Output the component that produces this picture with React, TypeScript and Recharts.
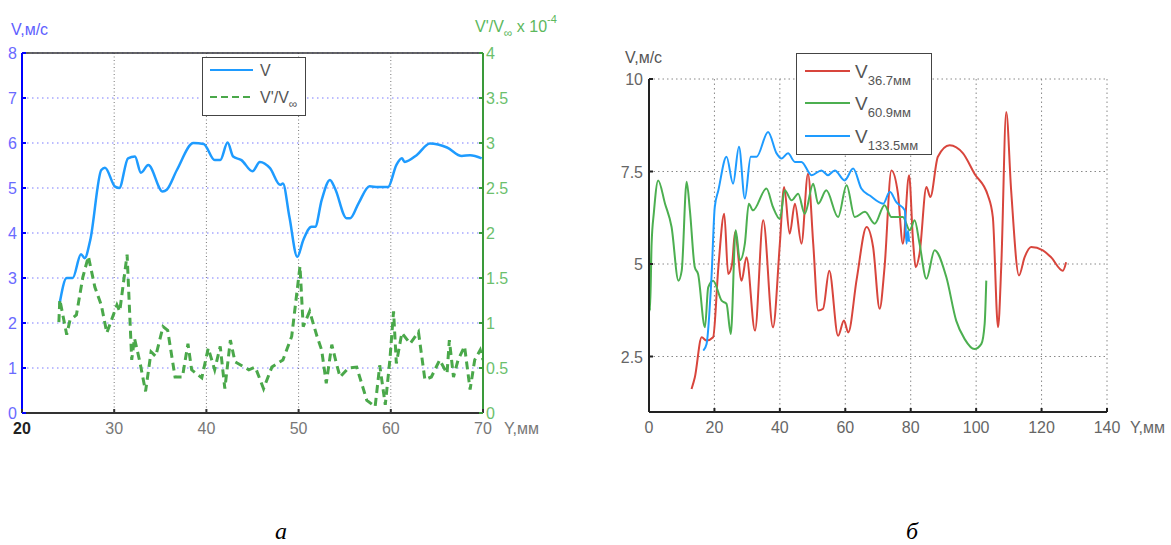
import React from 'react';
import { LineChart, Line, XAxis, YAxis, CartesianGrid, ReferenceLine, Legend } from 'recharts';

const SANS = '"Liberation Sans", Arial, Helvetica, sans-serif';

// ---------- Chart а ----------
const aVelX = [24.05, 24.85, 25.5, 26.4, 26.8, 27.4, 28.6, 29.0, 30.1, 30.55, 31.5, 32.25, 32.9, 33.7, 35.26, 35.7, 36.8, 38.6, 39.7, 40.9, 41.5, 42.3, 42.9, 43.8, 45.0, 45.8, 46.9, 48.0, 48.3, 49.0, 49.86, 50.5, 51.4, 51.8, 52.5, 53.4, 53.95, 55.2, 55.6, 56.5, 57.7, 58.6, 59.7, 60.6, 61.2, 61.5, 62.8, 64.25, 66.1, 67.7, 68.6, 69.86];
const aVelY = [2.4, 3.0, 3.0, 3.53, 3.44, 3.84, 5.4, 5.45, 5.03, 5.0, 5.66, 5.7, 5.34, 5.51, 4.92, 4.96, 5.4, 6.0, 5.98, 5.62, 5.62, 6.01, 5.7, 5.62, 5.37, 5.58, 5.44, 5.07, 5.1, 4.36, 3.47, 3.84, 4.14, 4.14, 4.73, 5.18, 4.99, 4.33, 4.33, 4.66, 5.04, 5.02, 5.02, 5.51, 5.66, 5.58, 5.73, 5.99, 5.9, 5.71, 5.73, 5.66];

const aFlucX = [24.0, 24.1, 24.85, 25.2, 25.9, 26.6, 27.2, 27.9, 28.6, 29.2, 30.3, 30.6, 31.4, 31.9, 32.2, 32.8, 33.4, 34.0, 34.5, 35.3, 35.8, 36.6, 37.4, 38.0, 38.4, 39.5, 40.2, 40.9, 41.5, 42.0, 42.6, 43.1, 44.6, 45.3, 46.2, 47.1, 48.3, 49.25, 50.15, 50.5, 51.2, 52.0, 52.5, 53.0, 53.6, 54.1, 54.5, 55.4, 56.3, 57.4, 58.3, 58.8, 59.4, 59.9, 60.3, 60.6, 61.2, 62.1, 63.0, 63.7, 64.4, 65.3, 66.1, 66.35, 66.8, 67.3, 68.0, 68.6, 69.1, 69.7, 70.0];
const aFlucY = [1.01, 1.26, 0.87, 1.03, 1.09, 1.51, 1.74, 1.4, 1.2, 0.89, 1.2, 1.13, 1.76, 0.59, 0.83, 0.56, 0.24, 0.68, 0.63, 0.96, 0.92, 0.4, 0.4, 0.77, 0.48, 0.39, 0.72, 0.48, 0.74, 0.27, 0.81, 0.57, 0.48, 0.51, 0.27, 0.51, 0.59, 0.85, 1.63, 0.96, 1.13, 0.85, 0.7, 0.33, 0.76, 0.55, 0.4, 0.5, 0.51, 0.14, 0.07, 0.53, 0.09, 0.59, 1.13, 0.55, 0.89, 0.77, 0.9, 0.37, 0.4, 0.59, 0.44, 0.81, 0.4, 0.59, 0.74, 0.26, 0.59, 0.7, 0.59];

const aXTicks = [20, 30, 40, 50, 60, 70];
const aLeftTicks = [0, 1, 2, 3, 4, 5, 6, 7, 8];
const aRightTicks = [0, 0.5, 1, 1.5, 2, 2.5, 3, 3.5, 4];

// ---------- Chart б ----------
const bRedX = [13.0, 14.0, 16.1, 17.6, 19.6, 21.2, 23.0, 24.2, 25.4, 26.3, 28.3, 29.8, 32.4, 34.9, 37.9, 40.0, 41.3, 43.0, 44.6, 46.6, 48.6, 50.2, 51.7, 53.2, 55.1, 57.8, 59.6, 60.9, 63.5, 66.5, 68.5, 70.5, 72.0, 74.1, 76.1, 77.6, 79.5, 80.7, 81.5, 82.7, 84.8, 86.0, 88.3, 91.9, 96.0, 99.5, 103.6, 105.1, 106.7, 107.7, 109.2, 110.7, 113.1, 114.8, 116.8, 120.4, 122.9, 126.5, 127.5];
const bRedY = [1.62, 1.93, 3.02, 2.93, 3.02, 4.91, 6.36, 4.73, 5.0, 5.86, 4.55, 5.18, 3.2, 6.18, 3.29, 5.55, 7.08, 5.82, 6.63, 5.55, 7.44, 5.55, 3.74, 3.79, 4.82, 3.06, 3.47, 3.15, 4.6, 6.0, 5.46, 3.79, 4.91, 7.53, 6.9, 5.55, 7.4, 5.64, 4.91, 5.28, 7.08, 6.81, 7.9, 8.21, 7.99, 7.44, 6.85, 6.27, 3.29, 5.0, 9.11, 6.99, 4.69, 5.18, 5.46, 5.37, 5.18, 4.82, 5.05];

const bGreenX = [0, 0.3, 0.8, 1.5, 2.8, 4.9, 6.9, 9.0, 10.0, 11.5, 12.5, 14.0, 15.0, 17.1, 18.1, 19.6, 22.2, 23.7, 25.0, 26.5, 27.8, 29.3, 30.5, 31.8, 35.9, 37.9, 40.0, 41.5, 43.6, 45.6, 47.6, 50.2, 51.7, 54.2, 57.8, 60.4, 62.9, 66.0, 69.0, 72.0, 74.1, 77.6, 79.7, 81.2, 82.7, 84.8, 87.3, 90.9, 93.9, 96.5, 99.5, 101.6, 102.6, 103.1];
const bGreenY = [5.6, 3.74, 5.55, 6.4, 7.26, 6.63, 6.0, 4.55, 4.82, 7.22, 6.45, 4.91, 4.73, 3.29, 4.37, 4.55, 4.01, 3.92, 3.11, 5.91, 5.1, 5.55, 6.63, 6.45, 7.04, 6.54, 6.22, 6.99, 6.72, 6.9, 6.36, 7.17, 6.63, 6.99, 6.27, 7.13, 6.27, 6.41, 6.09, 6.59, 6.27, 6.27, 5.91, 6.18, 5.55, 4.6, 5.37, 4.64, 3.47, 2.97, 2.7, 2.84, 3.38, 4.55];

const bBlueX = [16.6, 17.6, 19.1, 20.1, 21.2, 23.7, 25.7, 27.5, 29.3, 31.1, 32.9, 36.4, 39.0, 40.5, 42.5, 44.6, 46.6, 49.7, 52.7, 54.7, 56.8, 59.8, 62.4, 64.9, 67.5, 71.6, 73.6, 75.6, 78.2, 78.7, 79.2, 79.5];
const bBlueY = [2.66, 2.84, 4.64, 6.54, 6.99, 7.9, 7.17, 8.17, 6.77, 7.9, 7.9, 8.57, 7.99, 7.85, 7.99, 7.76, 7.76, 7.4, 7.53, 7.4, 7.53, 7.26, 7.58, 7.04, 6.85, 6.63, 6.95, 6.67, 6.45, 5.55, 5.9, 5.6];

const bXTicks = [0, 20, 40, 60, 80, 100, 120, 140];
const bYTicks = [2.5, 5, 7.5, 10];

const zip = (xs: number[], ys: number[]) => xs.map((x, i) => ({ x, y: ys[i] }));

const aVelData = zip(aVelX, aVelY);
const aFlucData = zip(aFlucX, aFlucY);
const bRedData = zip(bRedX, bRedY);
const bGreenData = zip(bGreenX, bGreenY);
const bBlueData = zip(bBlueX, bBlueY);

const BLUE_A = '#1e9bff';
const GREEN_A = '#4aa84a';
const RED_B = '#d8453c';
const GREEN_B = '#4caf50';
const BLUE_B = '#1e9bff';

// ---------- custom ticks ----------
const M = 8;
const bottomTick = (color: string, tickColor: string, boldFirst: number | null) => (props: any) => {
  const { x, y, payload } = props;
  const bold = boldFirst !== null && payload.value === boldFirst;
  return (
    <g>
      <line x1={x} x2={x} y1={y - M} y2={y - M - 4} stroke={tickColor} strokeWidth={2} />
      <text x={x} y={y + 13} textAnchor="middle" fontSize={16} fontFamily={SANS}
        fill={bold ? '#222' : color} fontWeight={bold ? 'bold' : 'normal'}>
        {payload.value}
      </text>
    </g>
  );
};
const leftTick = (color: string, tickColor: string, margin: number) => (props: any) => {
  const { x, y, payload } = props;
  return (
    <g>
      <line x1={x + margin} x2={x + margin + 4} y1={y} y2={y} stroke={tickColor} strokeWidth={2} />
      <text x={x} y={y + 6} textAnchor="end" fontSize={16} fontFamily={SANS} fill={color}>
        {payload.value}
      </text>
    </g>
  );
};
const rightTick = (color: string, tickColor: string, margin: number) => (props: any) => {
  const { x, y, payload } = props;
  return (
    <g>
      <line x1={x - margin} x2={x - margin - 4} y1={y} y2={y} stroke={tickColor} strokeWidth={2} />
      <text x={x} y={y + 6} textAnchor="start" fontSize={16} fontFamily={SANS} fill={color}>
        {payload.value}
      </text>
    </g>
  );
};

// ---------- legends ----------
const LegendA = () => (
  <svg width={104} height={59} style={{ display: 'block' }}>
    <rect x={0.5} y={0.5} width={103} height={58} fill="#fff" stroke="#444" strokeWidth={1} />
    <line x1={8} x2={51} y1={13} y2={13} stroke={BLUE_A} strokeWidth={2} />
    <text x={58} y={19} fontSize={16} fontFamily={SANS} fill="#555">V</text>
    <line x1={8} x2={51} y1={40} y2={40} stroke={GREEN_A} strokeWidth={2} strokeDasharray="7 4" />
    <text x={58} y={46} fontSize={16} fontFamily={SANS} fill="#555">
      V'/V<tspan dy={5} fontSize={12}>∞</tspan>
    </text>
  </svg>
);

const LegendRow = ({ y, color, sub }: { y: number; color: string; sub: string }) => (
  <g>
    <line x1={9} x2={54} y1={y} y2={y} stroke={color} strokeWidth={2} />
    <text x={59} y={y + 7} fontSize={19} fontFamily={SANS} fill="#555">
      V<tspan dy={7} fontSize={13}>{sub}</tspan>
    </text>
  </g>
);
const LegendB = () => (
  <svg width={136} height={102} style={{ display: 'block' }}>
    <rect x={0.5} y={0.5} width={135} height={101} fill="#fff" stroke="#444" strokeWidth={1} />
    <LegendRow y={18} color={RED_B} sub="36.7мм" />
    <LegendRow y={50} color={GREEN_B} sub="60.9мм" />
    <LegendRow y={83} color={BLUE_B} sub="133.5мм" />
  </svg>
);

export default function App() {
  return (
    <div style={{ position: 'absolute', left: 0, top: 0, width: 1171, height: 545, background: '#fff', fontFamily: SANS }}>
      {/* Chart а */}
      <div style={{ position: 'absolute', left: 0, top: 0 }}>
        <LineChart width={600} height={545} margin={{ top: 53, left: 2, right: 77, bottom: 102 }}>
          <CartesianGrid yAxisId="left" vertical={false} stroke="#7a7aff" strokeDasharray="1.5 3.5" />
          <CartesianGrid yAxisId="left" horizontal={false} stroke="#777" strokeDasharray="1 2.5" />
          <XAxis type="number" dataKey="x" domain={[20, 70]} ticks={aXTicks} interval={0}
            allowDataOverflow height={30} tickSize={0} tickMargin={M}
            axisLine={{ stroke: '#333', strokeWidth: 2 }}
            tick={bottomTick('#777', '#333', 20)}
            label={{ value: 'Y,мм', position: 'right', offset: 21, fill: '#777', fontSize: 16, fontFamily: SANS }} />
          <YAxis yAxisId="left" type="number" domain={[0, 8]} ticks={aLeftTicks} interval={0}
            width={20} tickSize={0} tickMargin={5}
            axisLine={{ stroke: '#0000ff', strokeWidth: 2 }}
            tick={leftTick('#6a6aff', '#0000ff', 5)} />
          <YAxis yAxisId="right" orientation="right" type="number" domain={[0, 4]} ticks={aRightTicks} interval={0}
            width={40} tickSize={0} tickMargin={3}
            axisLine={{ stroke: '#3a9a3a', strokeWidth: 2 }}
            tick={rightTick('#6cbf6c', '#3a9a3a', 3)} />
          <ReferenceLine yAxisId="left" y={8} stroke="#333" strokeWidth={1.5} />
          <Line yAxisId="left" data={aVelData} dataKey="y" type="monotone" dot={false}
            stroke={BLUE_A} strokeWidth={2.5} isAnimationActive={false} />
          <Line yAxisId="right" data={aFlucData} dataKey="y" type="linear" dot={false}
            stroke={GREEN_A} strokeWidth={3} strokeDasharray="8 5" isAnimationActive={false} />
          <Legend content={LegendA} layout="vertical" align="center" verticalAlign="middle"
            wrapperStyle={{ left: 202, top: 57, width: 104, height: 59 }} />
        </LineChart>
      </div>

      {/* Chart б */}
      <div style={{ position: 'absolute', left: 600, top: 0 }}>
        <LineChart width={571} height={545} margin={{ top: 79, left: 19, right: 64, bottom: 103 }}>
          <CartesianGrid stroke="#888" strokeDasharray="1.5 3" />
          <XAxis type="number" dataKey="x" domain={[0, 140]} ticks={bXTicks} interval={0}
            allowDataOverflow height={30} tickSize={0} tickMargin={M}
            axisLine={{ stroke: '#222', strokeWidth: 2 }}
            tick={bottomTick('#666', '#222', null)}
            label={{ value: 'Y,мм', position: 'right', offset: 23, fill: '#666', fontSize: 16, fontFamily: SANS }} />
          <YAxis type="number" domain={[1, 10]} ticks={bYTicks} interval={0}
            width={30} tickSize={0} tickMargin={6}
            axisLine={{ stroke: '#222', strokeWidth: 2 }}
            tick={leftTick('#666', '#222', 6)} />
          <Line data={bRedData} dataKey="y" type="monotone" dot={false}
            stroke={RED_B} strokeWidth={2} isAnimationActive={false} />
          <Line data={bGreenData} dataKey="y" type="monotone" dot={false}
            stroke={GREEN_B} strokeWidth={2} isAnimationActive={false} />
          <Line data={bBlueData} dataKey="y" type="monotone" dot={false}
            stroke={BLUE_B} strokeWidth={2} isAnimationActive={false} />
          <Legend content={LegendB} layout="vertical" align="center" verticalAlign="middle"
            wrapperStyle={{ left: 196, top: 53, width: 136, height: 102 }} />
        </LineChart>
      </div>

      {/* titles and captions */}
      <svg width={1171} height={545} style={{ position: 'absolute', left: 0, top: 0, pointerEvents: 'none' }}>
        <text x={11} y={35} fontSize={16} fontFamily={SANS} fill="#6060ff">V,м/с</text>
        <text x={475} y={32} fontSize={16} fontFamily={SANS} fill="#5cb85c">
          V'/V<tspan dy={5} fontSize={12}>∞</tspan>
          <tspan dy={-5} fontSize={16}> x 10</tspan>
          <tspan dy={-9} fontSize={11}>-4</tspan>
        </text>
        <text x={625} y={63} fontSize={16} fontFamily={SANS} fill="#555">V,м/с</text>
        <text x={281} y={539} fontSize={24} fontFamily='"Liberation Serif", "Times New Roman", serif' fontStyle="italic" textAnchor="middle" fill="#000">а</text>
        <text x={912} y={539} fontSize={24} fontFamily='"Liberation Serif", "Times New Roman", serif' fontStyle="italic" textAnchor="middle" fill="#000">б</text>
      </svg>
    </div>
  );
}
